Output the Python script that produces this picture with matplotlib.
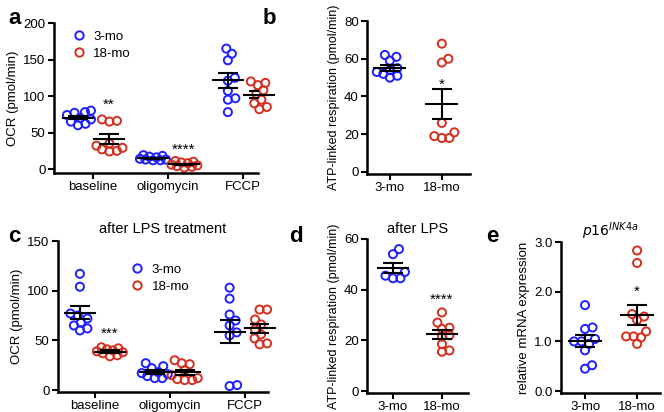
import numpy as np
import matplotlib
matplotlib.use('Agg')
import matplotlib.pyplot as plt
from matplotlib.lines import Line2D

plt.rcParams['font.family'] = ['Liberation Sans', 'DejaVu Sans']
plt.rcParams['font.size'] = 9

BLUE = '#1f1fff'
RED = '#d4301f'

# panel a: OCR by condition
ocr_groups = ['baseline', 'oligomycin', 'FCCP']
a_young = [[80, 78, 77, 74, 70, 68, 65, 62, 60],
           [19, 18, 17, 16, 14, 13, 13, 12, 12],
           [165, 158, 149, 125, 121, 107, 97, 95, 78]]
a_old = [[68, 66, 65, 35, 32, 29, 27, 25, 24],
         [11, 10, 9, 8, 6, 5, 4, 3, 2],
         [118, 120, 115, 108, 103, 95, 90, 85, 82]]

# panel b: ATP-linked respiration
ages = ['3-mo', '18-mo']
b_young = [62, 61, 59, 55, 54, 53, 52, 51, 50]
b_old = [68, 60, 58, 26, 21, 19, 18, 18]

# panel c: OCR after LPS
c_young = [[117, 104, 77, 75, 72, 68, 65, 62, 60],
           [27, 24, 22, 18, 17, 16, 14, 12, 12],
           [103, 92, 76, 70, 65, 58, 55, 5, 4]]
c_old = [[43, 42, 41, 40, 39, 38, 37, 35, 34],
         [30, 27, 26, 20, 15, 12, 11, 10, 10],
         [81, 81, 71, 66, 61, 56, 52, 47, 46]]

# panel d: ATP-linked respiration after LPS
d_young = [56, 54, 47, 45.5, 44.5, 44.5]
d_old = [31, 27, 25, 24.5, 22, 21.5, 18.5, 16, 15.5]

# panel e: p16INK4a expression
e_young = [1.73, 1.28, 1.25, 1.05, 1.0, 1.0, 0.95, 0.82, 0.52, 0.45]
e_old = [2.83, 2.58, 1.55, 1.5, 1.43, 1.2, 1.1, 1.1, 1.08, 0.95]

fig = plt.figure(figsize=(6.64, 4.12), dpi=100)


def style(ax):
    for s in ['top', 'right']:
        ax.spines[s].set_visible(False)
    for s in ['left', 'bottom']:
        ax.spines[s].set_linewidth(1.8)
    ax.tick_params(width=1.5, length=4, labelsize=9.5, pad=2)


def swarm(ax, xc, vals, size=7.5, maxoff=13):
    # beeswarm in pixel space, kept inside +-maxoff px (overlap allowed)
    pts = ax.transData.transform([(xc, v) for v in vals])
    order = np.argsort(pts[:, 1])
    placed = []
    out = np.zeros(len(vals))
    cands = [0.0]
    for k in range(1, int(maxoff * 2) + 1):
        cands += [k * 0.5, -k * 0.5]
    for i in order:
        y = pts[i, 1]
        best, bestd = 0.0, -1
        for off in cands:
            x = pts[i, 0] + off
            d = min([np.hypot(x - px, y - py) for px, py in placed] + [99])
            if d >= size:
                best = off
                break
            if d > bestd:
                best, bestd = off, d
        placed.append((pts[i, 0] + best, y))
        out[i] = pts[i, 0] + best
    inv = ax.transData.inverted()
    return [inv.transform((x, 0))[0] for x in out]


def group(ax, xc, vals, color, half=0.2):
    vals = np.array(vals, dtype=float)
    xs = swarm(ax, xc, vals)
    ax.scatter(xs, vals, s=34, facecolors='none', edgecolors=color, linewidths=1.4,
               zorder=2, clip_on=False)
    m = vals.mean()
    se = vals.std(ddof=1) / np.sqrt(len(vals))
    ax.plot([xc - half, xc + half], [m, m], color='black', lw=1.5, zorder=3, clip_on=False)
    ax.errorbar([xc], [m], yerr=[se], color='black', capsize=7, elinewidth=1.5,
                capthick=1.5, fmt='none', zorder=3)


h = [Line2D([], [], ls='none', marker='o', mfc='none', mec=BLUE, mew=1.4, ms=6),
     Line2D([], [], ls='none', marker='o', mfc='none', mec=RED, mew=1.4, ms=6)]

# ---- a
ax = fig.add_axes([0.0813, 0.580, 0.307, 0.364])
style(ax)
ax.set_xlim(-0.52, 2.2)
ax.set_ylim(-5.5, 200)
ax.set_yticks([0, 50, 100, 150, 200])
ax.set_xticks(range(3))
ax.set_xticklabels(ocr_groups)
for i in range(3):
    group(ax, i - 0.2, a_young[i], BLUE)
    group(ax, i + 0.22, a_old[i], RED)
ax.text(0.21, 88, '**', ha='center', va='center', fontsize=11)
ax.text(1.21, 27, '****', ha='center', va='center', fontsize=11)
ax.set_ylabel('OCR (pmol/min)', fontsize=9.5, labelpad=3)
ax.legend(h, ages, loc='upper left', frameon=False, fontsize=9.5, handlelength=1,
          handletextpad=0.6, bbox_to_anchor=(0.03, 1.03), labelspacing=0.35)

# ---- b
ax = fig.add_axes([0.5527, 0.578, 0.155, 0.371])
style(ax)
ax.set_xlim(-0.44, 1.54)
ax.set_ylim(-1, 80)
ax.set_yticks([0, 20, 40, 60, 80])
ax.set_xticks([0, 1])
ax.set_xticklabels(ages)
group(ax, 0, b_young, BLUE, half=0.3)
group(ax, 1, b_old, RED, half=0.3)
ax.text(1.0, 46, '*', ha='center', va='center', fontsize=11)
ax.set_ylabel('ATP-linked respiration (pmol/min)', fontsize=9, labelpad=3)

# ---- c
ax = fig.add_axes([0.0873, 0.0485, 0.316, 0.3665])
style(ax)
ax.set_xlim(-0.493, 2.31)
ax.set_ylim(-2, 150)
ax.set_yticks([0, 50, 100, 150])
ax.set_xticks(range(3))
ax.set_xticklabels(ocr_groups)
for i in range(3):
    group(ax, i - 0.2, c_young[i], BLUE)
    group(ax, i + 0.2, c_old[i], RED)
ax.text(0.19, 57, '***', ha='center', va='center', fontsize=11)
ax.set_ylabel('OCR (pmol/min)', fontsize=9.5, labelpad=3)
ax.set_title('after LPS treatment', fontsize=10.5, pad=6)
ax.legend(h, ages, loc='upper left', frameon=False, fontsize=9.5, handlelength=1,
          handletextpad=0.6, bbox_to_anchor=(0.29, 0.93), labelspacing=0.35)

# ---- d
ax = fig.add_axes([0.5527, 0.046, 0.152, 0.374])
style(ax)
ax.set_xlim(-0.53, 1.53)
ax.set_ylim(-0.8, 60)
ax.set_yticks([0, 20, 40, 60])
ax.set_xticks([0, 1])
ax.set_xticklabels(ages)
group(ax, 0, d_young, BLUE, half=0.3)
group(ax, 1, d_old, RED, half=0.3)
ax.text(1.0, 36, '****', ha='center', va='center', fontsize=11)
ax.set_ylabel('ATP-linked respiration (pmol/min)', fontsize=9, labelpad=3)
ax.set_title('after LPS', fontsize=10.5, pad=4)

# ---- e
ax = fig.add_axes([0.845, 0.046, 0.149, 0.3665])
style(ax)
ax.set_xlim(-0.46, 1.44)
ax.set_ylim(-0.04, 3)
ax.set_yticks([0, 1, 2, 3])
ax.set_yticklabels(['0.0', '1.0', '2.0', '3.0'])
ax.set_xticks([0, 1])
ax.set_xticklabels(ages)
group(ax, 0, e_young, BLUE, half=0.3)
group(ax, 1, e_old, RED, half=0.3)
ax.text(1.0, 2.0, '*', ha='center', va='center', fontsize=11)
ax.set_ylabel('relative mRNA expression', fontsize=9.5, labelpad=3)
ax.set_title(r'$\it{p16}^{\it{INK4a}}$', fontsize=10, pad=4)

# panel letters
for lab, x, y in [('a', 0.012, 0.955), ('b', 0.395, 0.955), ('c', 0.012, 0.425),
                  ('d', 0.435, 0.425), ('e', 0.732, 0.425)]:
    fig.text(x, y, lab, fontsize=16, fontweight='bold', va='center')

fig.savefig('out.png', dpi=100)
